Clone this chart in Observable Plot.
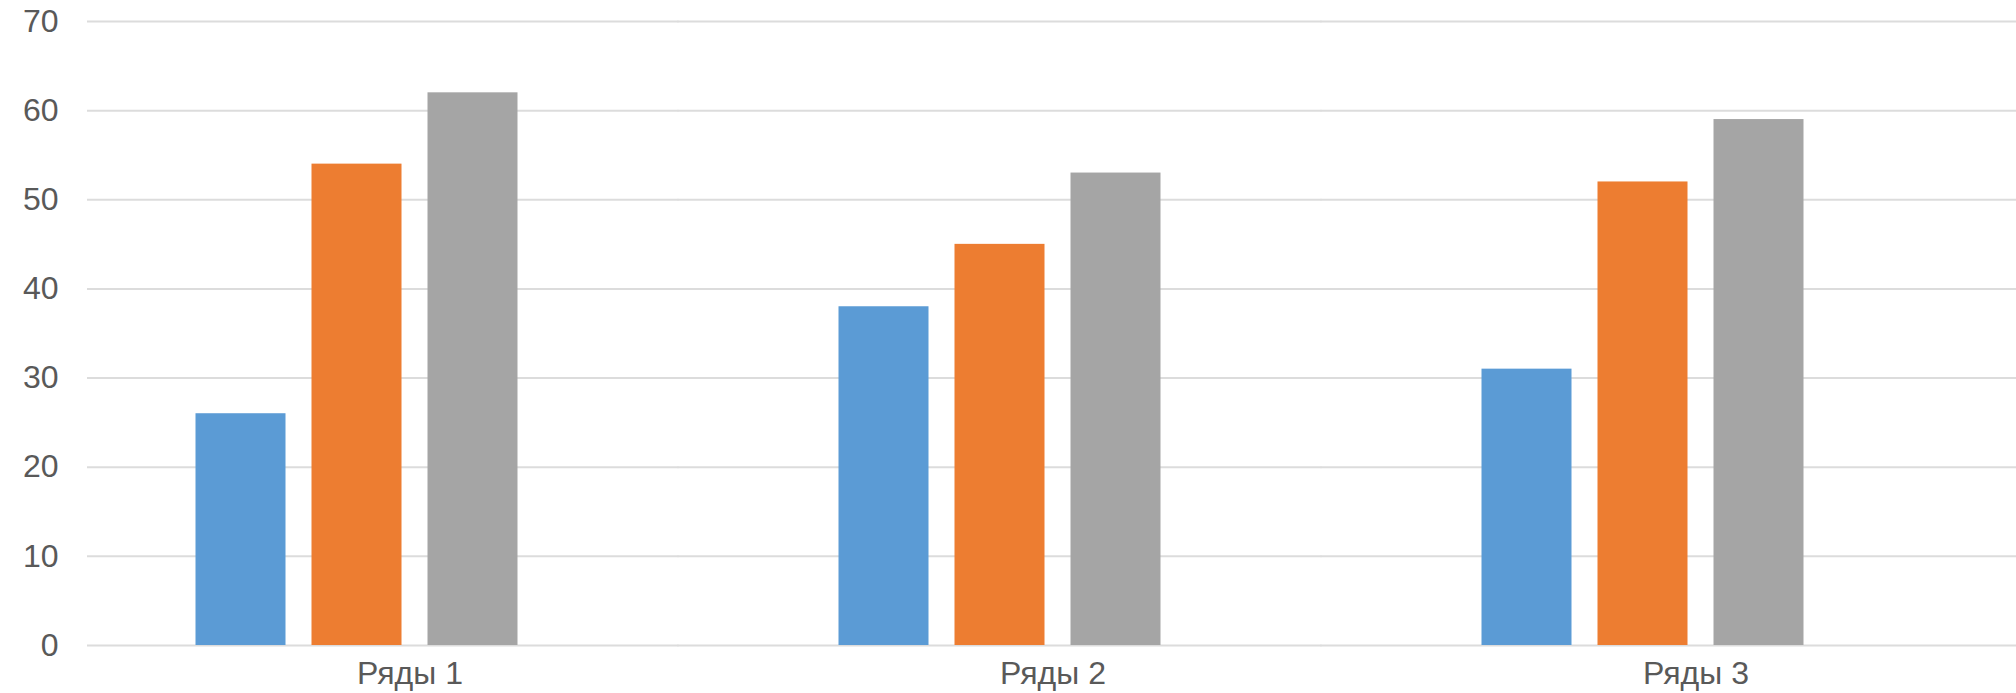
<!DOCTYPE html>
<html>
<head>
<meta charset="utf-8">
<script src="https://cdn.jsdelivr.net/npm/d3@7"></script>
<script src="https://cdn.jsdelivr.net/npm/@observablehq/plot@0.6"></script>
<style>
  html, body { margin: 0; padding: 0; background: #fff; overflow: hidden; }
  #chart svg { display: block; overflow: visible; }
</style>
</head>
<body>
<div id="chart"></div>
<script>
const categories = ["Ряды 1", "Ряды 2", "Ряды 3"];
const series = ["Серия 1", "Серия 2", "Серия 3"];
const series1Values = [26, 38, 31];
const series2Values = [54, 45, 52];
const series3Values = [62, 53, 59];
const yTicks = [0, 10, 20, 30, 40, 50, 60, 70];
const seriesColors = ["#5B9BD5", "#ED7D31", "#A5A5A5"];

const seriesValues = [series1Values, series2Values, series3Values];
const table = [];
categories.forEach((c, i) => {
  series.forEach((s, j) => {
    table.push({category: c, series: s, value: seriesValues[j][i]});
  });
});

const font = "'Liberation Sans', Arial, sans-serif";
const gridStyle = {stroke: "#dcdcdc", strokeWidth: 2};

const chart = Plot.plot({
  width: 2016,
  height: 693,
  marginTop: 21,
  marginBottom: 48,
  marginLeft: 34.5,
  marginRight: 52.5,
  style: {fontFamily: font, background: "#fff", overflow: "visible"},
  fx: {domain: categories, padding: 0, axis: null},
  x: {domain: series, paddingInner: 0.222, paddingOuter: 1.359, axis: null},
  y: {domain: [0, 70], axis: null},
  color: {domain: series, range: seriesColors},
  marks: [
    Plot.ruleY(yTicks, {fx: () => categories[0], y: d => d, insetLeft: 52, insetRight: -0.5, ...gridStyle}),
    Plot.ruleY(yTicks, {fx: () => categories[1], y: d => d, insetLeft: -0.5, insetRight: -0.5, ...gridStyle}),
    Plot.ruleY(yTicks, {fx: () => categories[2], y: d => d, insetLeft: -0.5, insetRight: -52.5, ...gridStyle}),
    Plot.text(yTicks, {
      fx: () => categories[0], y: d => d, text: d => String(d),
      frameAnchor: "left", textAnchor: "end", dx: 23,
      fontSize: 32, fill: "#595959"
    }),
    Plot.barY(table, {fx: "category", x: "series", y: "value", fill: "series"}),
    Plot.text(categories, {
      fx: d => d, text: d => d, frameAnchor: "bottom", textAnchor: "start",
      dy: 38, fontSize: 32, fill: "#595959"
    })
  ]
});
document.getElementById("chart").appendChild(chart);
</script>
</body>
</html>
